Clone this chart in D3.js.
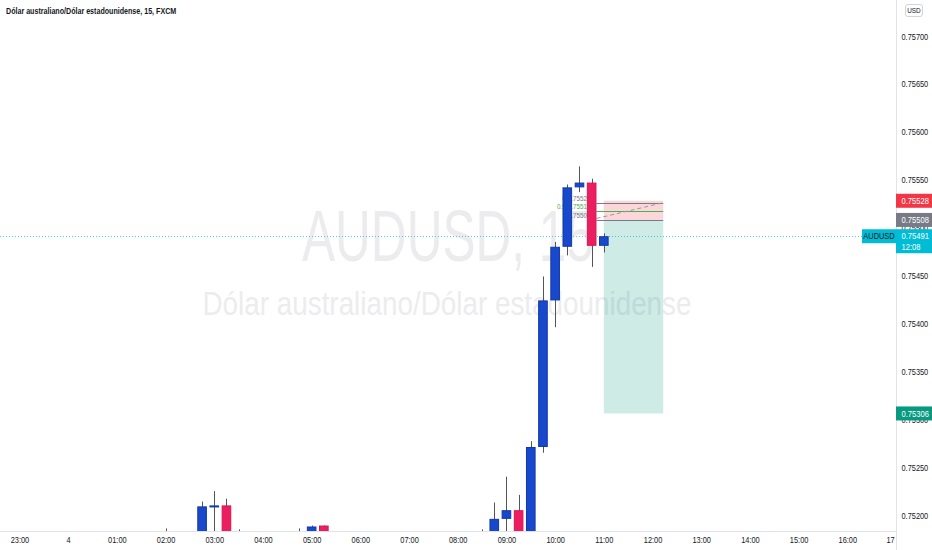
<!DOCTYPE html>
<html><head><meta charset="utf-8">
<script src="https://cdn.jsdelivr.net/npm/d3@7"></script>
<style>body{margin:0;background:#fff}svg{display:block;font-family:"Liberation Sans",Arial,sans-serif}</style>
</head><body><svg id="c" width="932" height="550"></svg>
<script>
// ---------- data ----------
const title = "Dólar australiano/Dólar estadounidense, 15, FXCM";
const symbol = "AUDUSD";
const watermark1 = "AUDUSD, 15";
const watermark2 = "Dólar australiano/Dólar estadounidense";
const currency = "USD";
// bar times in hours from midnight (15-minute bars)
const hours  = [2, 2.75, 3, 3.25, 3.5, 4.75, 5, 5.25, 8.5, 8.75, 9, 9.25, 9.5, 9.75, 10, 10.25, 10.5, 10.75, 11];
const opens  = [0.75174,0.75170,0.75209,0.75210,0.75176,0.75174,0.75175,0.75189,0.75172,0.75176,0.75196,0.75205,0.75175,0.75271,0.75424,0.75480,0.75542,0.75547,0.75481];
const highs  = [0.75186,0.75214,0.75225,0.75217,0.75185,0.75186,0.75189,0.75189,0.75185,0.75213,0.75240,0.75221,0.75277,0.75449,0.75485,0.75545,0.75564,0.75551,0.75494];
const lows   = [0.75168,0.75165,0.75172,0.75166,0.75170,0.75170,0.75172,0.75170,0.75168,0.75172,0.75175,0.75168,0.75170,0.75265,0.75396,0.75471,0.75537,0.75459,0.75474];
const closes = [0.75176,0.75209,0.75210,0.75172,0.75174,0.75176,0.75188,0.75174,0.75175,0.75196,0.75205,0.75174,0.75271,0.75424,0.75480,0.75542,0.75547,0.75481,0.75491];
const priceTicks = [0.752,0.7525,0.753,0.7535,0.754,0.7545,0.755,0.7555,0.756,0.7565,0.757];
const timeTicks  = [-1,0,1,2,3,4,5,6,7,8,9,10,11,12,13,14,15,16,17];
const timeLabels = ["23:00","4","01:00","02:00","03:00","04:00","05:00","06:00","07:00","08:00","09:00","10:00","11:00","12:00","13:00","14:00","15:00","16:00","17"];
const lastPrice = 0.75491, countdown = "12:08";
const stopPrice = 0.75528, entryPrice = 0.75508, targetPrice = 0.75306;
const positionSpan = [11, 12.22];
const fibSpan = [10.85, 12.22];
const fibLevels = ["0","0.5","1"];
const fibPrices = [0.75526,0.75517,0.75508];

// ---------- layout ----------
const W = 932, H = 550, plotR = 896, plotB = 531;
const svg = d3.select("#c");
const x = d3.scaleLinear().domain([-1.4, 17]).range([0, plotR]);
const y = d3.scaleLinear().domain([0.752, 0.757]).range([515, 36]);
const fmt = d3.format(".5f");
// horizontally condense text around its anchor point
const condense = (sel, f) => sel.each(function(){
  const x0 = +(this.getAttribute("x") || 0);
  d3.select(this).attr("transform", `translate(${x0*(1-f)},0) scale(${f},1)`);
});

svg.append("defs").append("clipPath").attr("id","plot")
  .append("rect").attr("x",0).attr("y",0).attr("width",plotR).attr("height",plotB);

const plot = svg.append("g").attr("clip-path","url(#plot)");

// watermark
plot.append("text").attr("x",448).attr("y",261).attr("text-anchor","middle")
  .attr("font-size",72).attr("fill","#ececef").text(watermark1)
  .attr("textLength",292).attr("lengthAdjust","spacingAndGlyphs");
plot.append("text").attr("x",447).attr("y",315).attr("text-anchor","middle")
  .attr("font-size",34).attr("fill","#ececef").text(watermark2)
  .attr("textLength",489).attr("lengthAdjust","spacingAndGlyphs");

// position zones
plot.append("rect").attr("x",x(positionSpan[0])).attr("width",x(positionSpan[1])-x(positionSpan[0]))
  .attr("y",y(stopPrice)).attr("height",y(entryPrice)-y(stopPrice)).attr("fill","rgba(242,54,69,0.2)");
plot.append("rect").attr("x",x(positionSpan[0])).attr("width",x(positionSpan[1])-x(positionSpan[0]))
  .attr("y",y(entryPrice)).attr("height",y(targetPrice)-y(entryPrice)).attr("fill","rgba(8,153,129,0.2)");

// fib lines + labels
const fibColors = ["#787b86","#4caf50","#787b86"];
fibPrices.forEach((p,i)=>{
  plot.append("line").attr("x1",x(fibSpan[0])).attr("x2",x(fibSpan[1]))
    .attr("y1",Math.round(y(p))+0.5).attr("y2",Math.round(y(p))+0.5)
    .attr("stroke",fibColors[i]).attr("stroke-width",1);
  plot.append("text").attr("x",x(fibSpan[0])-4).attr("y",y(p)-2).attr("text-anchor","end")
    .attr("font-size",7).attr("fill",fibColors[i]).text(`${fibLevels[i]}(${fmt(p)})`)
    .call(condense,0.9);
});
plot.append("line").attr("x1",x(fibSpan[0])).attr("y1",y(fibPrices[2])-1.5)
  .attr("x2",x(fibSpan[1])).attr("y2",y(fibPrices[0]))
  .attr("stroke","#9598a1").attr("stroke-width",1).attr("stroke-dasharray","4,3");

// current price dotted line
plot.append("line").attr("x1",0).attr("x2",plotR).attr("y1",Math.round(y(lastPrice))+0.5).attr("y2",Math.round(y(lastPrice))+0.5)
  .attr("stroke","#00bcd4").attr("stroke-width",1).attr("stroke-dasharray","1,2").attr("opacity",0.7);

// candles
const bars = hours.map((h,i)=>({h,o:opens[i],hi:highs[i],lo:lows[i],c:closes[i]}));
const bw = (x(0.25)-x(0))*0.79;
const up = "#1848cc", upS = "#1238a8", dn = "#eb1f5f", dnS = "#d81552";
const cg = plot.append("g");
cg.selectAll("line").data(bars).join("line")
  .attr("x1",d=>Math.round(x(d.h))+0.5).attr("x2",d=>Math.round(x(d.h))+0.5)
  .attr("y1",d=>y(d.hi)).attr("y2",d=>y(d.lo)).attr("stroke","#555").attr("stroke-width",1);
cg.selectAll("rect").data(bars).join("rect")
  .attr("x",d=>x(d.h)-bw/2+0.5).attr("width",bw-1)
  .attr("y",d=>y(Math.max(d.o,d.c))+0.5).attr("height",d=>Math.max(1,Math.abs(y(d.o)-y(d.c))-1))
  .attr("fill",d=>d.c>=d.o?up:dn).attr("stroke",d=>d.c>=d.o?upS:dnS).attr("stroke-width",1);

// axes lines
svg.append("line").attr("x1",plotR+0.5).attr("x2",plotR+0.5).attr("y1",0).attr("y2",H).attr("stroke","#e0e3eb");
svg.append("line").attr("x1",0).attr("x2",plotR).attr("y1",plotB+0.5).attr("y2",plotB+0.5).attr("stroke","#e0e3eb");

// right axis
const ya = svg.append("g").attr("transform",`translate(${plotR},0)`)
  .call(d3.axisRight(y).tickValues(priceTicks).tickFormat(fmt).tickSize(0).tickPadding(5.5));
ya.select(".domain").remove();
ya.selectAll("text").attr("font-size",9.5).attr("fill","#131722").attr("font-family",null).call(condense,0.78);

// bottom axis
const xa = svg.append("g").attr("transform",`translate(0,${plotB})`)
  .call(d3.axisBottom(x).tickValues(timeTicks).tickFormat((d,i)=>timeLabels[i]).tickSize(0).tickPadding(5.5));
xa.select(".domain").remove();
xa.selectAll(".tick").filter(d=>d===17).select("text").attr("x",-6);
xa.selectAll("text").attr("font-size",9.5).attr("fill","#131722").attr("font-family",null).call(condense,0.78);

// price labels on axis
function axisLabel(p, bg, txt, h, extra){
  const yy = y(p);
  const g = svg.append("g");
  g.append("rect").attr("x",plotR).attr("y",yy-7).attr("width",W-plotR).attr("height",h).attr("fill",bg);
  g.append("text").attr("x",plotR+5.5).attr("y",yy).attr("dy","0.34em").attr("font-size",9.5)
    .attr("fill","#fff").text(txt).call(condense,0.8);
  if(extra) g.append("text").attr("x",plotR+5.5).attr("y",yy+11).attr("dy","0.34em").attr("font-size",9.5)
    .attr("fill","#fff").text(extra).call(condense,0.8);
}
axisLabel(stopPrice,"#f23645",fmt(stopPrice),14);
axisLabel(entryPrice,"#787b86",fmt(entryPrice),14);
axisLabel(lastPrice,"#00bcd4",fmt(lastPrice),24,countdown);
axisLabel(targetPrice,"#089981",fmt(targetPrice),14);

// symbol label left of axis
const sy = y(lastPrice);
svg.append("rect").attr("x",862).attr("y",sy-7).attr("width",plotR-862).attr("height",14).attr("fill","#00bcd4");
svg.append("text").attr("x",879).attr("y",sy).attr("dy","0.34em").attr("text-anchor","middle")
  .attr("font-size",9.5).attr("fill","#131722").text(symbol).call(condense,0.78);

// currency box
svg.append("rect").attr("x",905.5).attr("y",4.5).attr("width",17).attr("height",12).attr("rx",2.5)
  .attr("fill","#fff").attr("stroke","#d1d4dc");
svg.append("text").attr("x",914).attr("y",10.5).attr("dy","0.34em").attr("text-anchor","middle")
  .attr("font-size",8).attr("fill","#131722").text(currency).call(condense,0.8);

// title
svg.append("text").attr("x",6).attr("y",14).attr("font-size",9.5).attr("font-weight",600)
  .attr("fill","#131722").text(title).call(condense,0.75);
</script></body></html>
